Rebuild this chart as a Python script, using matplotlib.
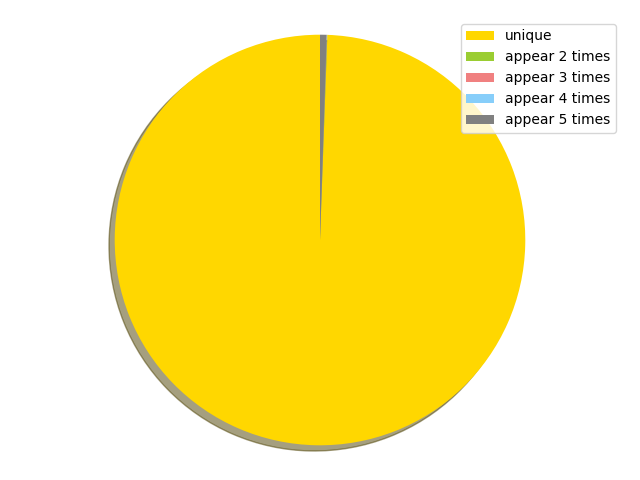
import matplotlib
matplotlib.use('Agg')
import matplotlib.pyplot as plt

labels = ['unique', 'appear 2 times', 'appear 3 times', 'appear 4 times', 'appear 5 times']
counts = [9943, 3, 1, 1, 52]
colors = ['gold', 'yellowgreen', 'lightcoral', 'lightskyblue', 'gray']

fig = plt.figure(figsize=(6.4, 4.8), dpi=100)
patches, texts = plt.pie(counts, colors=colors, shadow=True, startangle=90)
plt.legend(patches, labels, loc='upper right')
plt.axis('equal')
plt.tight_layout(pad=1.22)
plt.savefig('out.png')
